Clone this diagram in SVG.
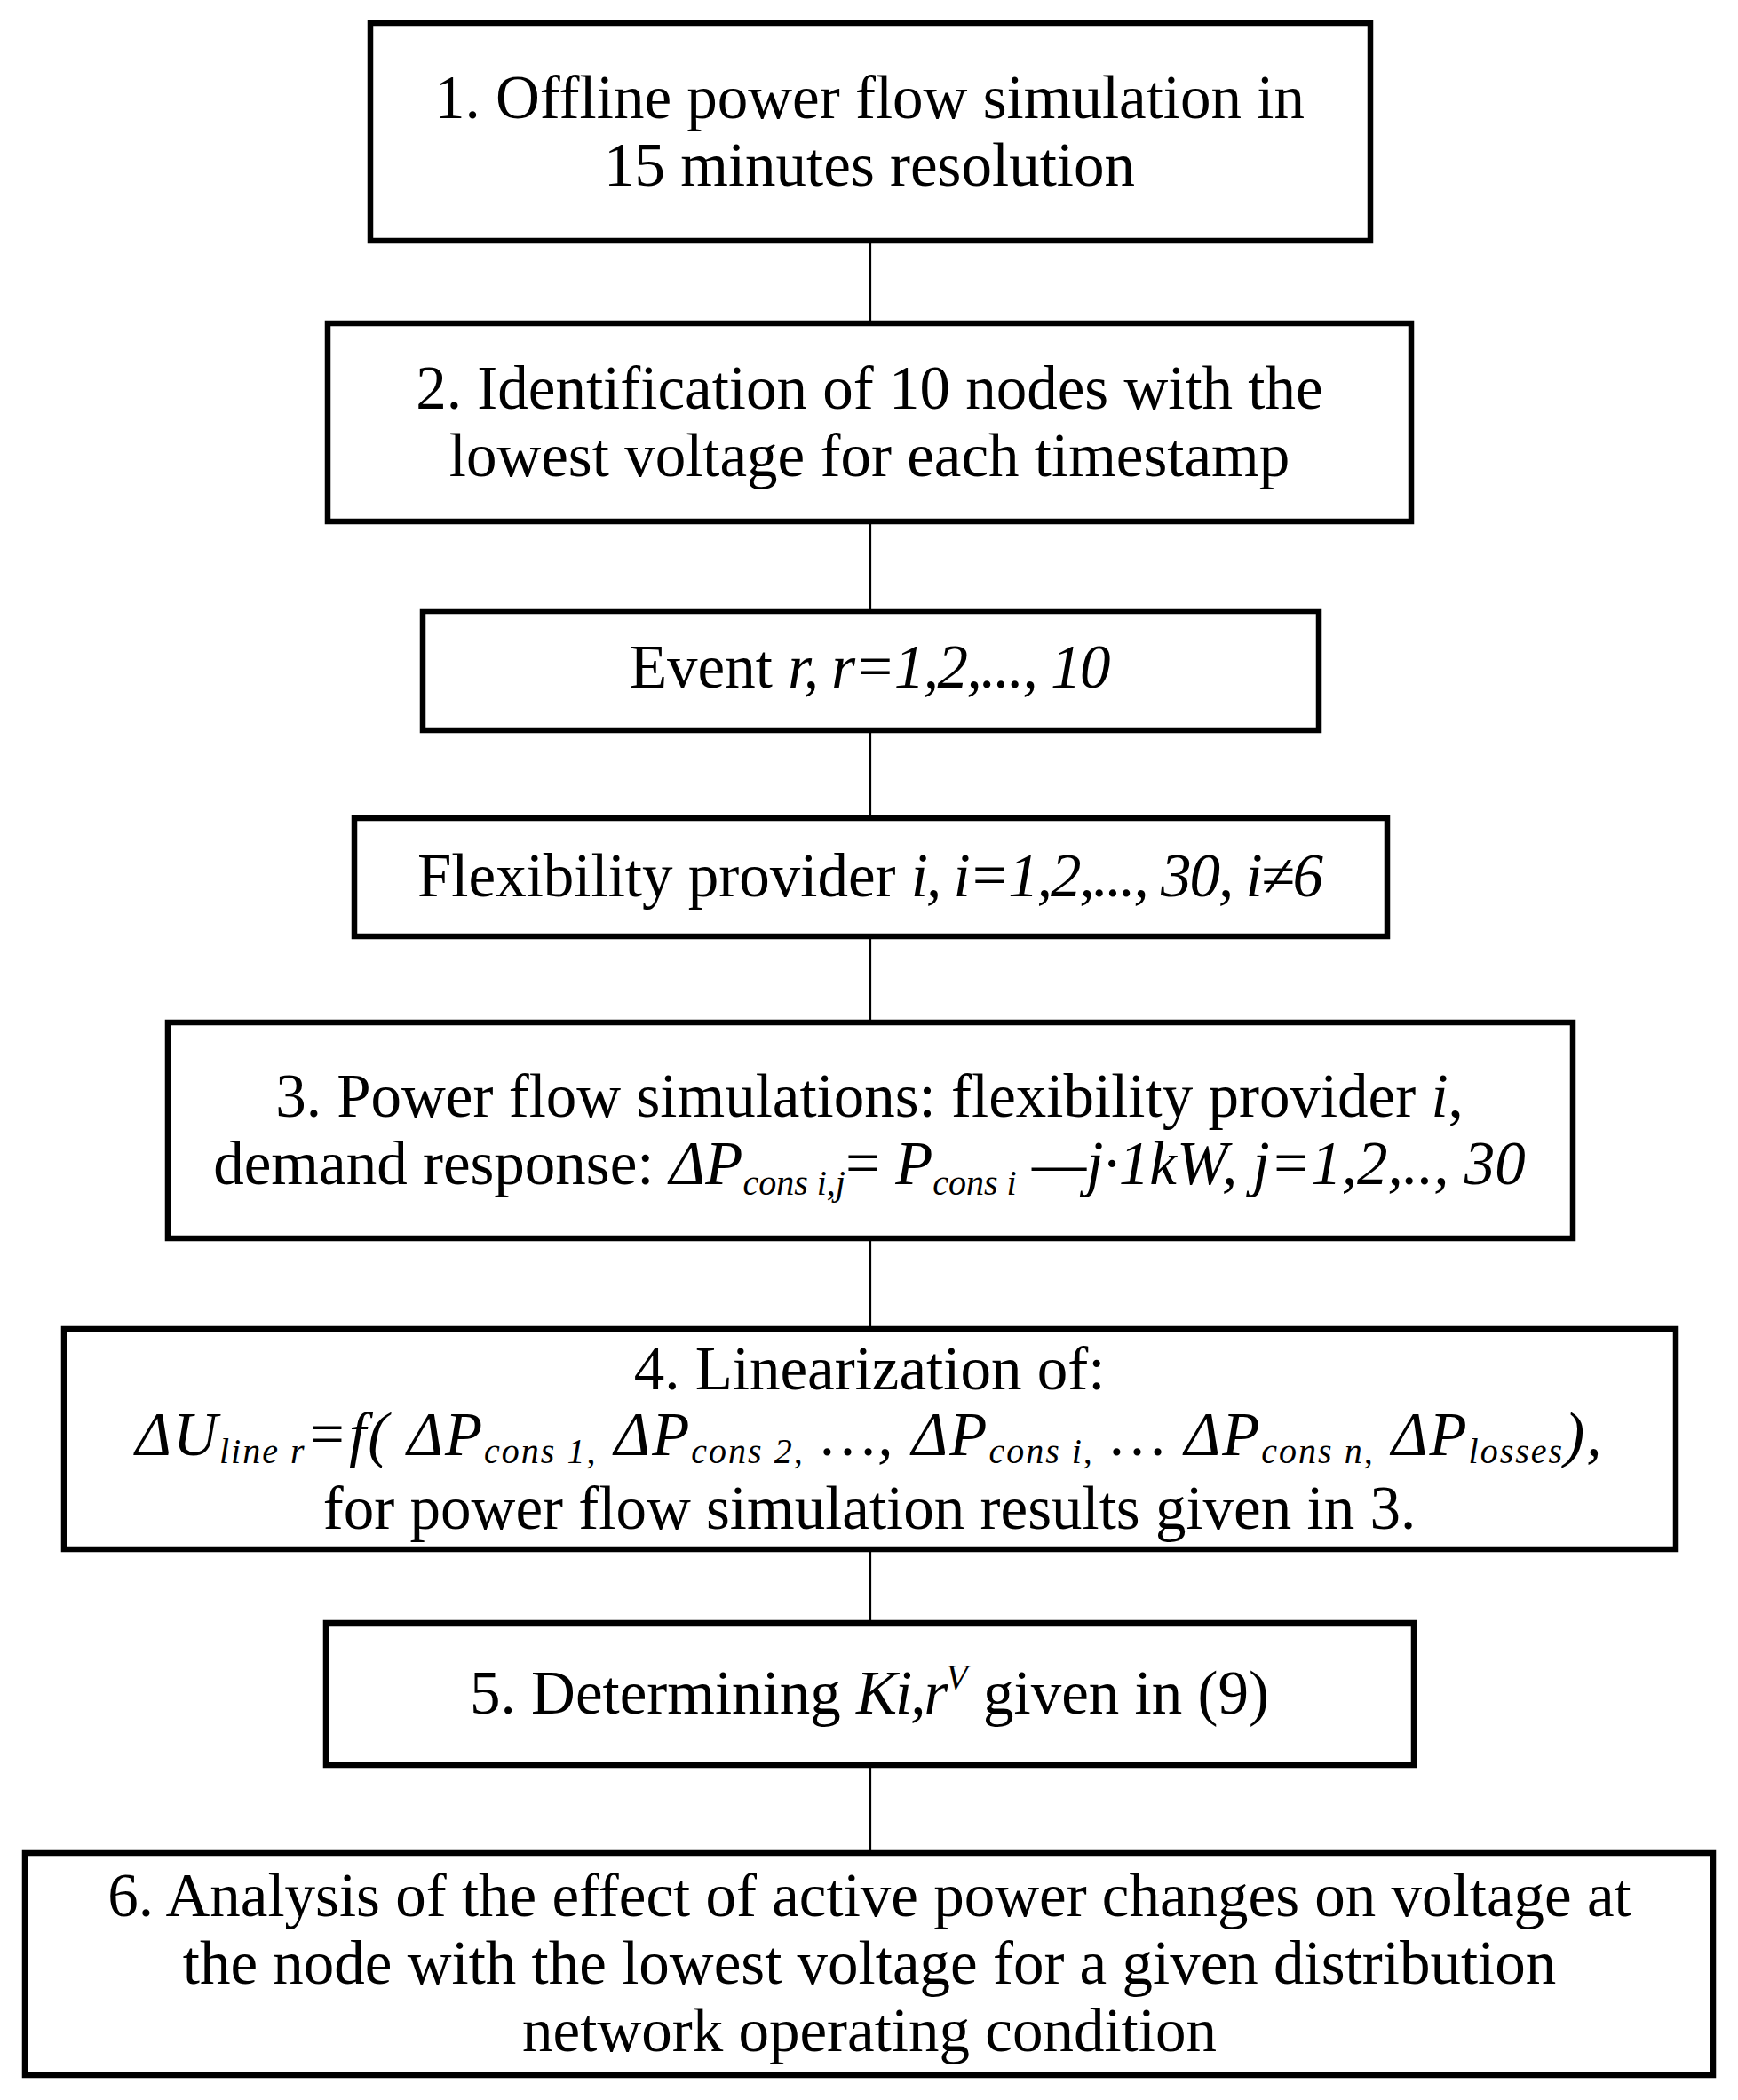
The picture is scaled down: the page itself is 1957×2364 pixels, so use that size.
<svg xmlns="http://www.w3.org/2000/svg" width="1957" height="2364" viewBox="0 0 1957 2364">
<style>
  .box { fill: #ffffff; stroke: #000000; stroke-width: 6.5; }
  .conn { stroke: #000000; stroke-width: 2.2; fill: none; }
  text { font-family: "Liberation Serif", "Times New Roman", serif; font-size: 69px; fill: #000000; text-anchor: middle; }
  .it { font-style: italic; }
  .sub { font-size: 40px; font-style: italic; }
</style>
<rect x="0" y="0" width="1957" height="2364" fill="#ffffff"/>
<g id="connectors">
  <line class="conn" x1="980" y1="274" x2="980" y2="361"/>
  <line class="conn" x1="980" y1="590" x2="980" y2="685"/>
  <line class="conn" x1="980" y1="825" x2="980" y2="918"/>
  <line class="conn" x1="980" y1="1057" x2="980" y2="1148"/>
  <line class="conn" x1="980" y1="1397" x2="980" y2="1493"/>
  <line class="conn" x1="980" y1="1747" x2="980" y2="1824"/>
  <line class="conn" x1="980" y1="1990" x2="980" y2="2083"/>
</g>
<g id="node1">
  <rect class="box" x="417" y="26" width="1126" height="245"/>
  <text x="979" y="133">1. Offline power flow simulation in</text>
  <text x="979" y="209">15 minutes resolution</text>
</g>
<g id="node2">
  <rect class="box" x="369" y="364" width="1220" height="223"/>
  <text x="979" y="460">2. Identification of 10 nodes with the</text>
  <text x="979" y="536">lowest voltage for each timestamp</text>
</g>
<g id="node-event">
  <rect class="box" x="476" y="688" width="1009" height="134"/>
  <text x="979" y="774">Event <tspan class="it" letter-spacing="-1.5">r, r=1,2,..., 10</tspan></text>
</g>
<g id="node-flex">
  <rect class="box" x="399" y="921" width="1163" height="133"/>
  <text x="979" y="1009">Flexibility provider <tspan class="it" letter-spacing="-2">i, i=1,2,..., 30, i≠6</tspan></text>
</g>
<g id="node3">
  <rect class="box" x="189" y="1151" width="1582" height="243"/>
  <text x="979" y="1257">3. Power flow simulations: flexibility provider <tspan class="it">i</tspan>,</text>
  <text x="979" y="1333">demand response: <tspan class="it">ΔP</tspan><tspan class="sub" dy="12">cons i,j</tspan><tspan dy="-12">= </tspan><tspan class="it">P</tspan><tspan class="sub" dy="12">cons i</tspan><tspan class="it" dy="-12"> —j·1kW, j=1,2,.., 30</tspan></text>
</g>
<g id="node4">
  <rect class="box" x="72" y="1496" width="1815" height="248"/>
  <text x="979" y="1564">4. Linearization of:</text>
  <text x="979" y="1638" class="it" letter-spacing="2"><tspan>ΔU</tspan><tspan class="sub" dy="9">line r</tspan><tspan dy="-9">=f( ΔP</tspan><tspan class="sub" dy="9">cons 1,</tspan><tspan dy="-9"> ΔP</tspan><tspan class="sub" dy="9">cons 2,</tspan><tspan dy="-9"> …, ΔP</tspan><tspan class="sub" dy="9">cons i,</tspan><tspan dy="-9"> … ΔP</tspan><tspan class="sub" dy="9">cons n,</tspan><tspan dy="-9">  ΔP</tspan><tspan class="sub" dy="9">losses</tspan><tspan dy="-9">),</tspan></text>
  <text x="979" y="1721">for power flow simulation results given in 3.</text>
</g>
<g id="node5">
  <rect class="box" x="367" y="1827" width="1225" height="160"/>
  <text x="979" y="1929">5. Determining <tspan class="it" letter-spacing="-2">Ki,r</tspan><tspan class="sub" dy="-28">V</tspan><tspan dy="28"> given in (9)</tspan></text>
</g>
<g id="node6">
  <rect class="box" x="28" y="2086" width="1901" height="250"/>
  <text x="979" y="2157">6. Analysis of the effect of active power changes on voltage at</text>
  <text x="979" y="2233">the node with the lowest voltage for a given distribution</text>
  <text x="979" y="2309">network operating condition</text>
</g>
</svg>
